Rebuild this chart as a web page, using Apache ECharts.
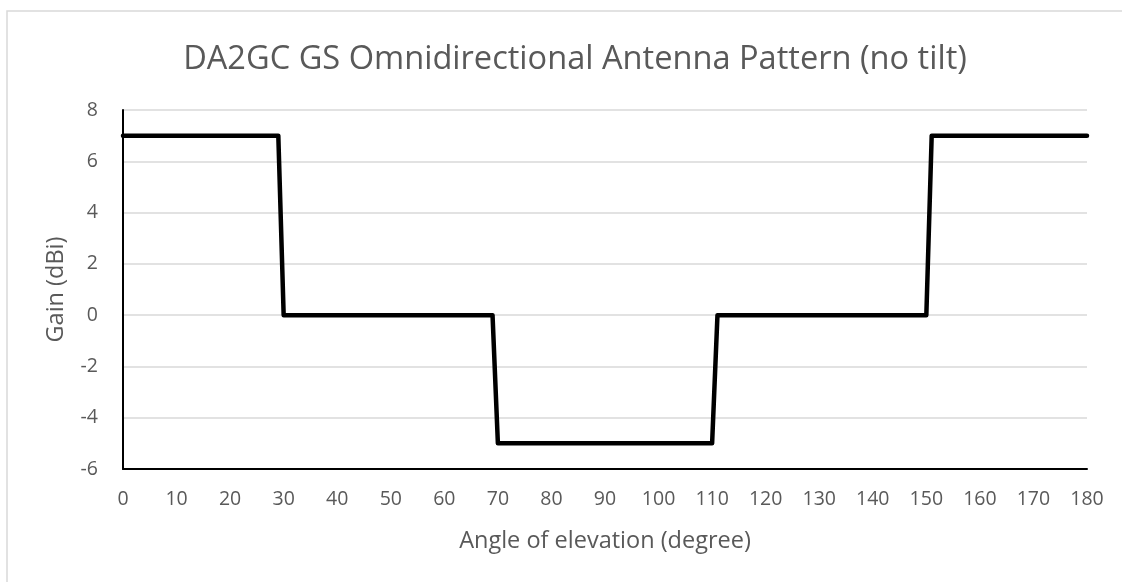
<!DOCTYPE html>
<html>
<head>
<meta charset="utf-8">
<script src="https://cdn.jsdelivr.net/npm/echarts@6/dist/echarts.min.js"></script>
<style>
  html, body { margin: 0; padding: 0; background: #fff; }
  #chart { width: 1122px; height: 582px; }
</style>
</head>
<body>
<div id="chart"></div>
<script>
// angle of elevation (degree) at each corner of the pattern
const angles = [0, 29, 30, 69, 70, 110, 111, 150, 151, 180];
// gain (dBi) at those angles
const gains = [7, 7, 0, 0, -5, -5, 0, 0, 7, 7];

const titleText = 'DA2GC GS Omnidirectional Antenna Pattern (no tilt)';
const xName = 'Angle of elevation (degree)';
const yName = 'Gain (dBi)';

const FONT = '"Open Sans", "Noto Sans", sans-serif';
const TEXT_COLOR = '#595959';

const chart = echarts.init(document.getElementById('chart'), null, { renderer: 'canvas' });

chart.setOption({
  backgroundColor: '#fff',
  animation: false,
  graphic: [
    {
      // chart area border (only top / left edges visible in the crop)
      type: 'rect',
      shape: { x: 7, y: 11, width: 1300, height: 800 },
      style: { fill: 'none', stroke: '#d9d9d9', lineWidth: 1.5 },
      silent: true
    }
  ],
  title: {
    text: titleText,
    left: 570,
    top: 38,
    textAlign: 'center',
    textStyle: {
      fontFamily: FONT,
      fontSize: 32.6,
      fontWeight: 'normal',
      color: TEXT_COLOR
    }
  },
  grid: { left: 123, right: 35, top: 110, bottom: 113, containLabel: false },
  xAxis: {
    type: 'value',
    min: 0,
    max: 180,
    interval: 10,
    name: xName,
    nameLocation: 'middle',
    nameGap: 60,
    nameTextStyle: { fontFamily: FONT, fontSize: 23.5, color: TEXT_COLOR },
    axisLine: { onZero: false, lineStyle: { color: '#000', width: 2 } },
    axisTick: { show: false },
    splitLine: { show: false },
    axisLabel: { fontFamily: FONT, fontSize: 19.5, color: TEXT_COLOR, margin: 20 }
  },
  yAxis: {
    type: 'value',
    min: -6,
    max: 8,
    interval: 2,
    name: yName,
    nameLocation: 'middle',
    nameGap: 55,
    nameTextStyle: { fontFamily: FONT, fontSize: 23.5, color: TEXT_COLOR },
    axisLine: { show: true, onZero: false, lineStyle: { color: '#000', width: 2 } },
    axisTick: { show: false },
    splitLine: { lineStyle: { color: '#d9d9d9', width: 1.5 } },
    axisLabel: { fontFamily: FONT, fontSize: 19.5, color: TEXT_COLOR, margin: 25 }
  },
  series: [
    {
      type: 'line',
      data: angles.map((a, i) => [a, gains[i]]),
      showSymbol: false,
      lineStyle: { color: '#000', width: 4.5, cap: 'round', join: 'round' }
    }
  ]
});
</script>
</body>
</html>
